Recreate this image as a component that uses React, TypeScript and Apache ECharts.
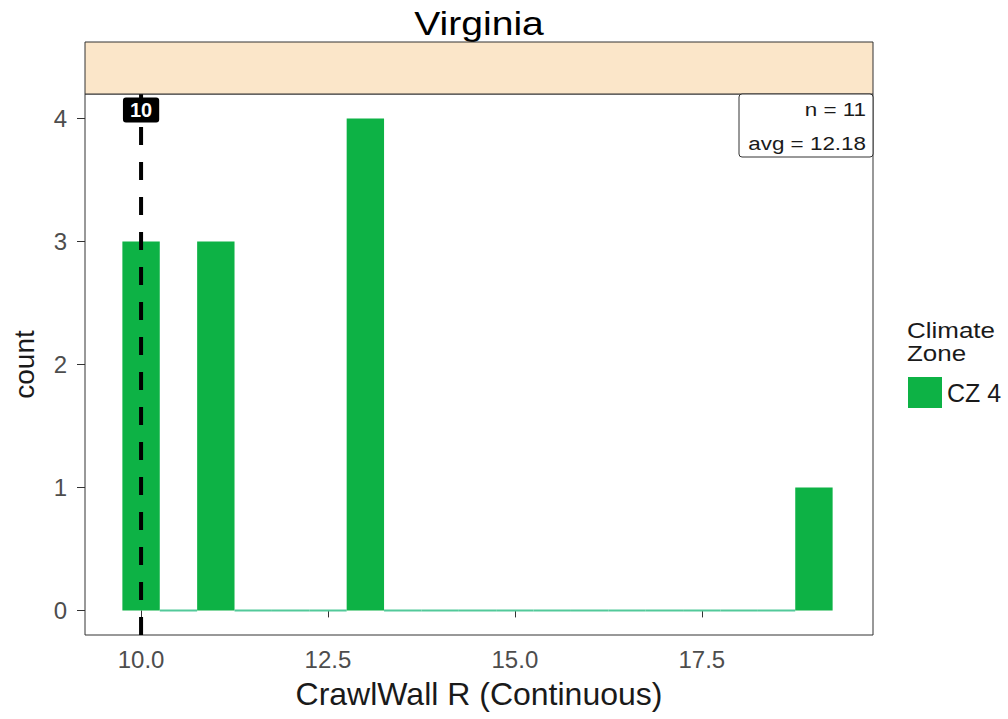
import React, { useEffect, useRef } from "react";
import * as echarts from "echarts";

const binStarts = [9.75, 10.25, 10.75, 11.25, 11.75, 12.25, 12.75, 13.25, 13.75, 14.25, 14.75, 15.25, 15.75, 16.25, 16.75, 17.25, 17.75, 18.25, 18.75];
const binEnds = [10.25, 10.75, 11.25, 11.75, 12.25, 12.75, 13.25, 13.75, 14.25, 14.75, 15.25, 15.75, 16.25, 16.75, 17.25, 17.75, 18.25, 18.75, 19.25];
const counts = [3, 0, 3, 0, 0, 0, 4, 0, 0, 0, 0, 0, 0, 0, 0, 0, 0, 0, 1];
const xTicks = [10, 12.5, 15, 17.5];
const yTicks = [0, 1, 2, 3, 4];
const refValue = 10;
const seriesName = "CZ 4";
const facetTitle = "Virginia";
const legendTitle = ["Climate", "Zone"];
const statLines = ["n = 11", "avg = 12.18"];

const FONT = "Liberation Sans, Arial, sans-serif";
const GREEN = "#0db245";

export default function App() {
  const ref = useRef<HTMLDivElement>(null);
  useEffect(() => {
    const chart = echarts.init(ref.current!, null, { renderer: "svg" });
    const data = binStarts.map((s, i) => [s, binEnds[i], counts[i]]);
    chart.setOption({
      animation: false,
      textStyle: { fontFamily: FONT },
      grid: {
        left: 85, right: 135, top: 94, bottom: 84,
        show: true, borderColor: "#333", borderWidth: 1, backgroundColor: "#fff",
      },
      xAxis: {
        type: "value", min: 9.25, max: 19.79,
        name: "CrawlWall R (Continuous)", nameLocation: "middle", nameGap: 43,
        nameTextStyle: { fontSize: 32, color: "#1a1a1a", fontFamily: FONT },
        axisLine: { show: false },
        splitLine: { show: false },
        axisTick: { show: true, length: 7, customValues: xTicks, lineStyle: { color: "#333" } },
        axisLabel: { customValues: xTicks, formatter: (v: number) => v.toFixed(1), fontSize: 24, color: "#4d4d4d", margin: 12, fontFamily: FONT },
      },
      yAxis: {
        type: "value", min: -0.2, max: 4.2,
        name: "count", nameLocation: "middle", nameGap: 47, nameRotate: 90,
        nameTextStyle: { fontSize: 28, color: "#1a1a1a", fontFamily: FONT },
        axisLine: { show: false },
        splitLine: { show: false },
        axisTick: { show: true, length: 8, customValues: yTicks, lineStyle: { color: "#333" } },
        axisLabel: { customValues: yTicks, fontSize: 24, color: "#4d4d4d", margin: 18, fontFamily: FONT },
      },
      legend: {
        left: 903, top: 372, orient: "vertical",
        itemWidth: 34, itemHeight: 31, icon: "rect",
        textStyle: { fontSize: 25, color: "#1a1a1a", fontFamily: FONT },
        data: [seriesName],
      },
      series: [
        {
          type: "custom", name: seriesName, data,
          itemStyle: { color: GREEN },
          encode: { x: [0, 1], y: 2 },
          renderItem: (params: any, api: any) => {
            const s = api.value(0), e = api.value(1), c = api.value(2);
            const p0 = api.coord([s, c]);
            const p1 = api.coord([e, 0]);
            if (c === 0) {
              return { type: "rect", shape: { x: p0[0], y: p1[1] - 1, width: p1[0] - p0[0], height: 2 }, style: { fill: "#52c99a" } };
            }
            return { type: "rect", shape: { x: p0[0], y: p0[1], width: p1[0] - p0[0], height: p1[1] - p0[1] }, style: { fill: GREEN } };
          },
          z: 2,
        },
        {
          type: "line", data: [[refValue, -0.2], [refValue, 4.2]], symbol: "none",
          lineStyle: { color: "#000", width: 4, type: [18, 17] }, z: 3, silent: true,
        },
        {
          type: "scatter", data: [[refValue, 4.07]], symbolSize: 0, z: 5, silent: true,
          itemStyle: { opacity: 1, color: "#000" },
          label: {
            show: true, position: "inside", formatter: String(refValue), opacity: 1,
            backgroundColor: "#000", color: "#fff", fontSize: 20, fontWeight: "bold",
            padding: [3, 7, 2, 7], borderRadius: 3, fontFamily: FONT,
          },
        },
      ],
      graphic: [
        {
          type: "rect", shape: { x: 85, y: 42, width: 788, height: 52 },
          style: { fill: "#fbe6c9", stroke: "#333", lineWidth: 1 }, z: 10,
        },
        {
          type: "text", x: 479, y: 23, scaleX: 1.15, originX: 0,
          style: { text: facetTitle, fontSize: 34, fill: "#000", align: "center", verticalAlign: "middle", fontFamily: FONT },
        },
        {
          type: "rect", shape: { x: 739, y: 94, width: 134, height: 63, r: 3 },
          style: { fill: "#fff", stroke: "#333", lineWidth: 1 }, z: 10,
        },
        {
          type: "text", x: 866, y: 109, scaleX: 1.18,
          style: { text: statLines[0], fontSize: 19, fill: "#1a1a1a", align: "right", verticalAlign: "middle", fontFamily: FONT }, z: 11,
        },
        {
          type: "text", x: 866, y: 143, scaleX: 1.18,
          style: { text: statLines[1], fontSize: 19, fill: "#1a1a1a", align: "right", verticalAlign: "middle", fontFamily: FONT }, z: 11,
        },
        {
          type: "text", x: 907, y: 330, scaleX: 1.18,
          style: { text: legendTitle[0], fontSize: 22, fill: "#1a1a1a", verticalAlign: "middle", fontFamily: FONT },
        },
        {
          type: "text", x: 907, y: 353, scaleX: 1.18,
          style: { text: legendTitle[1], fontSize: 22, fill: "#1a1a1a", verticalAlign: "middle", fontFamily: FONT },
        },
      ],
    });
    return () => chart.dispose();
  }, []);
  return <div ref={ref} style={{ width: 1008, height: 719, position: "absolute", left: 0, top: 0 }} />;
}
